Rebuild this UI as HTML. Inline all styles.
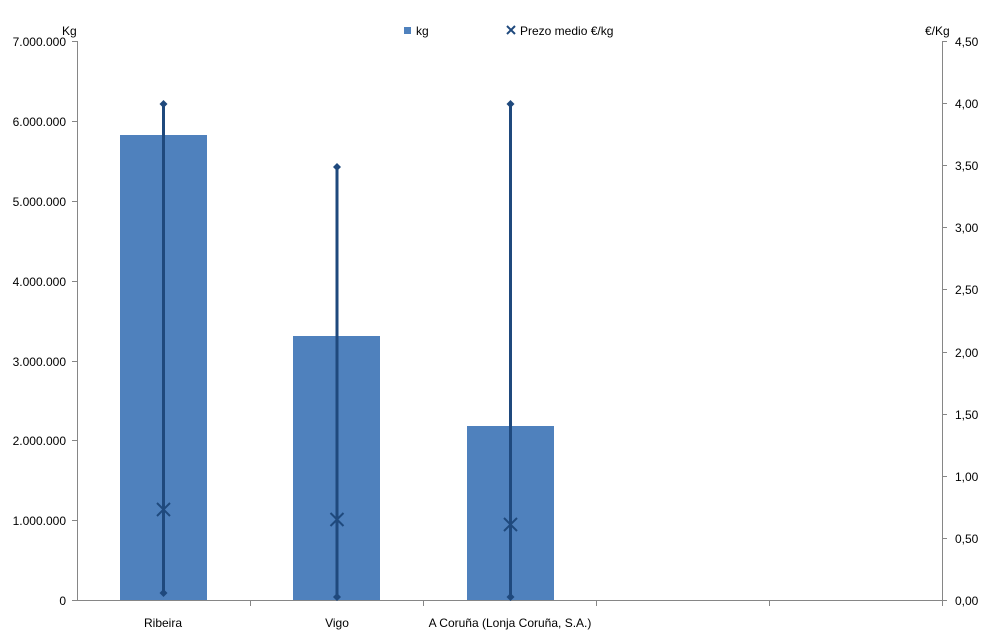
<!DOCTYPE html>
<html><head><meta charset="utf-8"><style>
body{margin:0;background:#fff;}
svg{display:block;font-family:"Liberation Sans",sans-serif;font-size:12px;}
</style></head><body>
<svg width="993" height="642" xmlns="http://www.w3.org/2000/svg">
<rect width="993" height="642" fill="#fff"/>
<!-- bars -->
<g fill="#4f81bd">
<rect x="120" y="135" width="87" height="465"/>
<rect x="293" y="336" width="87" height="264"/>
<rect x="467" y="426" width="87" height="174"/>
</g>
<!-- axes -->
<g stroke="#868686" stroke-width="1" fill="none">
<line x1="77.5" y1="41" x2="77.5" y2="601"/>
<line x1="942.5" y1="41" x2="942.5" y2="601"/>
<line x1="77" y1="600.5" x2="943" y2="600.5"/>
<path d="M72 41.5H77M72 121.5H77M72 201.5H77M72 281.5H77M72 361.5H77M72 440.5H77M72 520.5H77M72 600.5H77"/>
<path d="M942 41.5H947M942 103.5H947M942 165.5H947M942 227.5H947M942 289.5H947M942 352.5H947M942 414.5H947M942 476.5H947M942 538.5H947M942 600.5H947"/>
<path d="M250.5 600V606M423.5 600V606M596.5 600V606M769.5 600V606M942.5 600V606"/>
</g>
<!-- left labels -->
<g text-anchor="end" fill="#000">
<text x="66" y="46">7.000.000</text>
<text x="66" y="126">6.000.000</text>
<text x="66" y="206">5.000.000</text>
<text x="66" y="286">4.000.000</text>
<text x="66" y="366">3.000.000</text>
<text x="66" y="445">2.000.000</text>
<text x="66" y="525">1.000.000</text>
<text x="66" y="605">0</text>
</g>
<g fill="#000">
<text x="955" y="46">4,50</text>
<text x="955" y="108">4,00</text>
<text x="955" y="170">3,50</text>
<text x="955" y="232">3,00</text>
<text x="955" y="294">2,50</text>
<text x="955" y="357">2,00</text>
<text x="955" y="419">1,50</text>
<text x="955" y="481">1,00</text>
<text x="955" y="543">0,50</text>
<text x="955" y="605">0,00</text>
<text x="62" y="35">Kg</text>
<text x="925" y="35">€/Kg</text>
<text x="416" y="35">kg</text>
<text x="520" y="35">Prezo medio €/kg</text>
</g>
<rect x="404" y="27" width="7" height="7" fill="#4f81bd"/>
<path d="M507 26l8 8M515 26l-8 8" stroke="#1f497d" stroke-width="2"/>
<g text-anchor="middle" fill="#000">
<text x="163" y="627">Ribeira</text>
<text x="337" y="627">Vigo</text>
<text x="510" y="627">A Coruña (Lonja Coruña, S.A.)</text>
</g>
<!-- hi-lo lines -->
<g stroke="#1f497d" stroke-width="3">
<line x1="163.5" y1="104" x2="163.5" y2="593"/>
<line x1="337" y1="167" x2="337" y2="597"/>
<line x1="510.5" y1="104" x2="510.5" y2="597"/>
</g>
<g fill="#1f497d">
<path d="M163.5 100l4 4-4 4-4-4z"/><path d="M163.5 589l4 4-4 4-4-4z"/>
<path d="M337 163l4 4-4 4-4-4z"/><path d="M337 593l4 4-4 4-4-4z"/>
<path d="M510.5 100l4 4-4 4-4-4z"/><path d="M510.5 593l4 4-4 4-4-4z"/>
</g>
<g stroke="#1f497d" stroke-width="2">
<path d="M157 503l13 13M170 503l-13 13"/>
<path d="M330.5 513l13 13M343.5 513l-13 13"/>
<path d="M504 518l13 13M517 518l-13 13"/>
</g>
</svg>
</body></html>
